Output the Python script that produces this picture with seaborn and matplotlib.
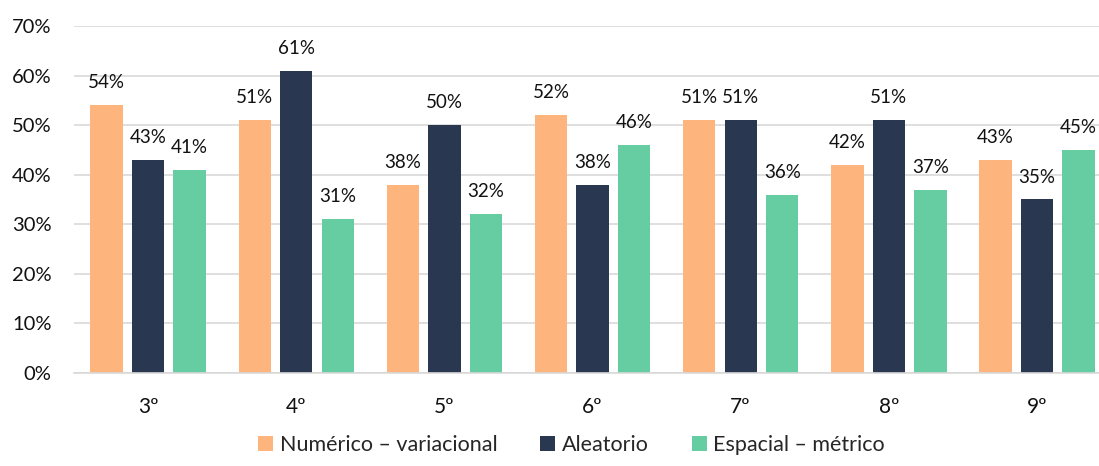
import matplotlib
matplotlib.use("Agg")
import matplotlib.pyplot as plt
from matplotlib.ticker import FuncFormatter, MultipleLocator
import seaborn as sns
import pandas as pd

# Grades and the percentage of students per thinking area
grados = ["3º", "4º", "5º", "6º", "7º", "8º", "9º"]
areas = ["Numérico – variacional", "Aleatorio", "Espacial – métrico"]
numerico = [54, 51, 38, 52, 51, 42, 43]
aleatorio = [43, 61, 50, 38, 51, 51, 35]
espacial = [41, 31, 32, 46, 36, 37, 45]
colores = ["#FDB47D", "#293850", "#66CDA2"]

df = pd.DataFrame({
    "grado": grados * 3,
    "area": [areas[0]] * 7 + [areas[1]] * 7 + [areas[2]] * 7,
    "valor": numerico + aleatorio + espacial,
})

sns.set_theme(style="white")
plt.rcParams["font.family"] = ["Lato", "DejaVu Sans"]

fig = plt.figure(figsize=(10.99, 4.66), dpi=100)
ax = fig.add_axes([0.0673, 0.1996, 0.9437, 0.7446])

sns.barplot(data=df, x="grado", y="valor", hue="area", hue_order=areas,
            palette=colores, saturation=1, width=0.84, gap=0.22,
            linewidth=0, ax=ax)

ax.set_ylim(0, 70)
ax.set_xlim(-0.5, 6.5)
ax.yaxis.set_major_locator(MultipleLocator(10))
ax.yaxis.set_major_formatter(FuncFormatter(lambda v, _: f"{v:.0f}%"))
ax.grid(axis="y", color="#D9D9D9", linewidth=1.2)
ax.set_axisbelow(True)
for side in ["top", "right", "left"]:
    ax.spines[side].set_visible(False)
ax.spines["bottom"].set_color("#D9D9D9")
ax.spines["bottom"].set_linewidth(1.2)
ax.tick_params(axis="y", length=0, pad=16, labelsize=14.5, labelcolor="#111111")
ax.tick_params(axis="x", length=0, pad=17, labelsize=15, labelcolor="#111111")
ax.set_xlabel("")
ax.set_ylabel("")

for cont in ax.containers:
    ax.bar_label(cont, fmt="%.0f%%", padding=10, fontsize=13.5, color="#111111")

handles, labels = ax.get_legend_handles_labels()
ax.get_legend().remove()
fig.legend(handles, labels, loc="lower center", bbox_to_anchor=(0.52, -0.005),
           ncol=3, frameon=False, fontsize=15.5, handlelength=0.7,
           handleheight=0.7, handletextpad=0.3, columnspacing=2.0,
           borderpad=0.1)

fig.savefig("out.png", dpi=100)
